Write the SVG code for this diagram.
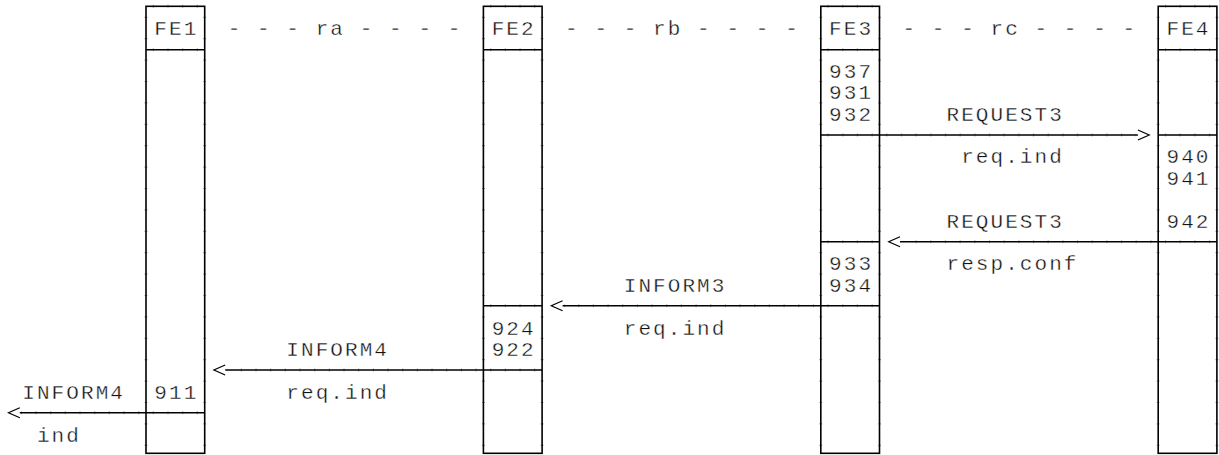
<svg xmlns="http://www.w3.org/2000/svg" width="1219" height="455" viewBox="0 0 1219 455">
<defs>
<style>
.box{fill:#fff;stroke:#000;stroke-width:1.6}
.ln{fill:none;stroke:#000;stroke-width:1.6}
.tv{fill:none;stroke:#000;stroke-width:3;stroke-dasharray:1.2 20.2;stroke-dashoffset:11;opacity:.35}
.th{fill:none;stroke:#000;stroke-width:3;stroke-dasharray:1.2 13.47;stroke-dashoffset:7.94;opacity:.35}
text{font-family:"Liberation Mono","Courier New",monospace;font-size:21px;letter-spacing:2.07px;fill:#111;stroke:#fff;stroke-width:0.35px}
.conn{fill:none;stroke:#000;stroke-width:1.6;marker-end:url(#chev)}
</style>
<marker id="chev" markerUnits="userSpaceOnUse" markerWidth="14" markerHeight="12" refX="0" refY="5" orient="auto" viewBox="-1 -1 14 12" overflow="visible">
<path d="M0,0 L11.3,5 L0,10" fill="none" stroke="#000" stroke-width="1.2"/>
</marker>
</defs>
<rect width="1219" height="455" fill="#fff"/>

<g id="FE1">
<rect class="box" x="146" y="6.3" width="58.7" height="447"/>
<path class="ln" d="M146 49.8H204.7M146 412.7H204.7"/>
<path class="tv" d="M146 6.3V453.3M204.7 6.3V453.3"/>
<path class="th" d="M146 6.3H204.7M146 49.8H204.7M146 412.7H204.7"/>
<text x="154.3" y="35">FE1</text>
<text x="154.3" y="398.8">911</text>
</g>

<g id="FE2">
<rect class="box" x="483.4" y="6.3" width="58.7" height="447"/>
<path class="ln" d="M483.4 49.8H542.1M483.4 305.7H542.1M483.4 370H542.1"/>
<path class="tv" d="M483.4 6.3V453.3M542.1 6.3V453.3"/>
<path class="th" d="M483.4 6.3H542.1M483.4 49.8H542.1M483.4 305.7H542.1M483.4 370H542.1"/>
<text x="491.7" y="35">FE2</text>
<text x="491.7" y="334.6">924</text>
<text x="491.7" y="356">922</text>
</g>

<g id="FE3">
<rect class="box" x="820.8" y="6.3" width="58.7" height="447"/>
<path class="ln" d="M820.8 49.8H879.5M820.8 135H879.5M820.8 241.7H879.5M820.8 305.7H879.5"/>
<path class="tv" d="M820.8 6.3V453.3M879.5 6.3V453.3"/>
<path class="th" d="M820.8 6.3H879.5M820.8 49.8H879.5M820.8 135H879.5M820.8 241.7H879.5M820.8 305.7H879.5"/>
<text x="829.1" y="35">FE3</text>
<text x="829.1" y="77.8">937</text>
<text x="829.1" y="99.2">931</text>
<text x="829.1" y="120.6">932</text>
<text x="829.1" y="270.4">933</text>
<text x="829.1" y="291.8">934</text>
</g>

<g id="FE4">
<rect class="box" x="1158.2" y="6.3" width="58.7" height="447"/>
<path class="ln" d="M1158.2 49.8H1216.9M1158.2 135H1216.9M1158.2 241.7H1216.9"/>
<path class="tv" d="M1158.2 6.3V453.3M1216.9 6.3V453.3"/>
<path class="th" d="M1158.2 6.3H1216.9M1158.2 49.8H1216.9M1158.2 135H1216.9M1158.2 241.7H1216.9"/>
<text x="1166.5" y="35">FE4</text>
<text x="1166.5" y="163.4">940</text>
<text x="1166.5" y="184.8">941</text>
<text x="1166.5" y="227.6">942</text>
</g>

<g id="relations">
<text x="227.65" y="35">- - - ra - - - -</text>
<text x="565.06" y="35">- - - rb - - - -</text>
<text x="902.47" y="35">- - - rc - - - -</text>
</g>

<g id="connectors">
<path class="conn" d="M879.5 135H1137.9"/>
<path class="conn" d="M1158.2 241.7H900"/>
<path class="conn" d="M820.8 305.7H562.6"/>
<path class="conn" d="M483.4 370H225.2"/>
<path class="conn" d="M146 412.7H19.8"/>
<path class="th" d="M879.5 135H1136M1158.2 241.7H902M820.8 305.7H564M483.4 370H227M146 412.7H21"/>
<text x="946.48" y="120.6">REQUEST3</text>
<text x="961.15" y="163.4">req.ind</text>
<text x="946.48" y="227.6">REQUEST3</text>
<text x="946.48" y="270.4">resp.conf</text>
<text x="623.74" y="291.8">INFORM3</text>
<text x="623.74" y="334.6">req.ind</text>
<text x="286.33" y="356">INFORM4</text>
<text x="286.33" y="398.8">req.ind</text>
<text x="22.27" y="398.8">INFORM4</text>
<text x="36.94" y="441.6">ind</text>
</g>
</svg>
